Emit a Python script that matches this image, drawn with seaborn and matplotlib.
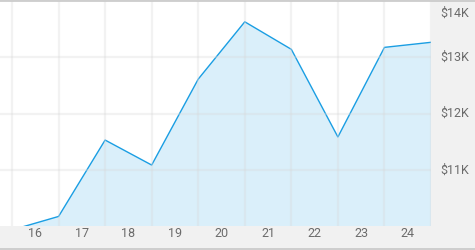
import matplotlib
matplotlib.use("Agg")
import matplotlib.pyplot as plt
import seaborn as sns
import pandas as pd
from matplotlib.ticker import FuncFormatter

# data
x_pos = [15.5, 16.5, 17.5, 18.5, 19.5, 20.5, 21.5, 22.5, 23.5, 24.5]
values = [9930, 10170, 11530, 11085, 12615, 13635, 13145, 11585, 13180, 13270]
xtick_vals = [16, 17, 18, 19, 20, 21, 22, 23, 24]
xtick_labels = ["16", "17", "18", "19", "20", "21", "22", "23", "24"]
ytick_vals = [11000, 12000, 13000]
ytop_val = 14000

df = pd.DataFrame({"x": x_pos, "v": values})

sns.set_theme(style="white")
plt.rcParams["font.family"] = ["Roboto", "DejaVu Sans"]

W, H = 475, 250
fig = plt.figure(figsize=(W / 100, H / 100), dpi=100, facecolor="#f1f1f1")
ax = fig.add_axes([0, (H - 226) / H, 431 / W, (226 - 1) / H])
ax.set_facecolor("white")

line_c = "#1a9ee3"
ax.fill_between(df["x"], df["v"], 0, color="#1a9ee3", alpha=0.16, lw=0, zorder=2)
sns.lineplot(data=df, x="x", y="v", ax=ax, color=line_c, lw=1.0, zorder=3)

ax.set_xlim(15.5 - 12 / 46.55, 24.5)
ax.set_ylim(10000, ytop_val + 1000 * 0.3 / 56.6)

# grid lines at data positions (between labels) and at y ticks
for xv in x_pos:
    ax.axvline(xv, color="#d8d8d8", lw=1.6, alpha=0.32, zorder=4)
for yv in ytick_vals:
    ax.axhline(yv, color="#d8d8d8", lw=1.6, alpha=0.32, zorder=4)

fmt = lambda v, p=None: f"${int(v/1000)}K"
ax.set_xticks(xtick_vals)
ax.set_xticklabels(xtick_labels)
ax.set_yticks(ytick_vals)
ax.yaxis.set_major_formatter(FuncFormatter(fmt))
ax.yaxis.tick_right()
ax.tick_params(axis="both", length=0, labelsize=9, labelcolor="#6b6b6b")
ax.tick_params(axis="y", pad=6.5)
ax.tick_params(axis="x", pad=1)
for lab in ax.get_yticklabels():
    lab.set_verticalalignment("center")
# top label is kept inside the figure
ax.annotate(fmt(ytop_val), xy=(1, ytop_val), xycoords=("axes fraction", "data"),
            xytext=(6.5, -4), textcoords="offset points", ha="left", va="top",
            fontsize=9, color="#6b6b6b")
ax.set_xlabel("")
ax.set_ylabel("")
for s in ax.spines.values():
    s.set_visible(False)

# frame lines top and bottom of figure
fig.add_artist(plt.Line2D([0, 1], [1 - 0.5 / H, 1 - 0.5 / H], color="#c8c8c8", lw=1.2, transform=fig.transFigure))
fig.add_artist(plt.Line2D([0, 1], [1.5 / H, 1.5 / H], color="#c8c8c8", lw=1.2, transform=fig.transFigure))

fig.savefig("out.png", dpi=100, facecolor=fig.get_facecolor())
